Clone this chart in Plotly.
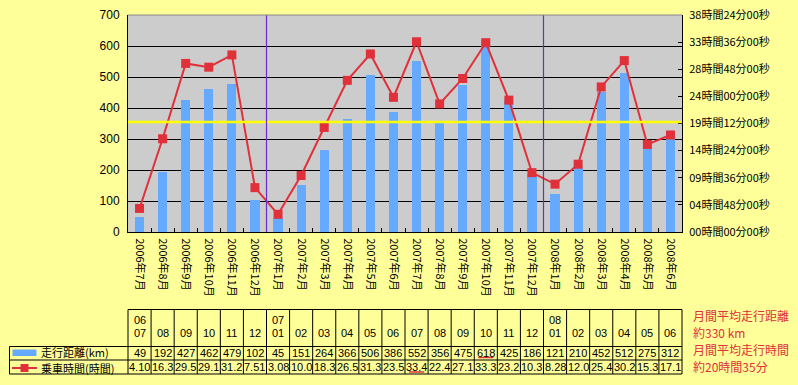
import plotly.graph_objects as go

# ---------------- data ----------------
months = ["2006年7月", "2006年8月", "2006年9月", "2006年10月", "2006年11月", "2006年12月",
          "2007年1月", "2007年2月", "2007年3月", "2007年4月", "2007年5月", "2007年6月",
          "2007年7月", "2007年8月", "2007年9月", "2007年10月", "2007年11月", "2007年12月",
          "2008年1月", "2008年2月", "2008年3月", "2008年4月", "2008年5月", "2008年6月"]
header_year = ["06", "", "", "", "", "", "07", "", "", "", "", "", "", "", "", "", "", "",
               "08", "", "", "", "", ""]
header_month = ["07", "08", "09", "10", "11", "12", "01", "02", "03", "04", "05", "06",
                "07", "08", "09", "10", "11", "12", "01", "02", "03", "04", "05", "06"]
distance_km = [49, 192, 427, 462, 479, 102, 45, 151, 264, 366, 506, 386,
               552, 356, 475, 618, 425, 186, 121, 210, 452, 512, 275, 312]
ride_time = ["4.10", "16.3", "29.5", "29.1", "31.2", "7.51", "3.08", "10.0", "18.3", "26.5", "31.3", "23.5",
             "33.4", "22.4", "27.1", "33.3", "23.2", "10.3", "8.28", "12.0", "25.4", "30.2", "15.3", "17.1"]
reference_line_km = 355
right_tick_minutes = [0, 288, 576, 864, 1152, 1440, 1728, 2016, 2304]
notes = ["月間平均走行距離", "約330 km", "月間平均走行時間", "約20時間35分"]

# hours.minutes notation -> decimal hours
def to_hours(s):
    h, m = s.split(".")
    m = (m + "0")[:2]
    return int(h) + int(m) / 60.0

ride_hours = [to_hours(s) for s in ride_time]
idx = list(range(len(months)))
right_tick_vals = [m / 60.0 for m in right_tick_minutes]
right_tick_text = [f"{m // 60:02d}時間{m % 60:02d}分00秒" for m in right_tick_minutes]

FONT = "Noto Sans CJK JP"
NUMFONT = "Liberation Sans Narrow, Liberation Sans, Arial"
RED = "#e0303a"
BLUE = "#66aaff"
BG = "#ffff99"

fig = go.Figure()
fig.add_trace(go.Bar(x=idx, y=distance_km, width=0.4, marker=dict(color=BLUE, line=dict(width=0)),
                     name="走行距離(km)", yaxis="y"))
fig.add_trace(go.Scatter(x=idx, y=ride_hours, mode="lines+markers", yaxis="y2",
                         line=dict(color=RED, width=2),
                         marker=dict(symbol="square", size=9, color=RED),
                         name="乗車時間(時間)"))

# pixel helpers for layout placement
L, R, T, B = 128, 682, 15, 232
def py(p):
    return (B - p) / (B - T)
def px(p):
    return (p - L) / (R - L)

shapes = []
# yellow reference line
shapes.append(dict(type="line", xref="paper", x0=0, x1=1, yref="y", y0=reference_line_km, y1=reference_line_km,
                   line=dict(color="#ffff00", width=2.5), layer="above"))
# year separators
for i in range(1, len(idx)):
    if header_year[i]:
        shapes.append(dict(type="line", xref="x", x0=i - 0.5, x1=i - 0.5, yref="paper", y0=0, y1=1,
                           line=dict(color="#6a2ccf", width=1.2), layer="above"))
# top border
shapes.append(dict(type="line", xref="paper", x0=0, x1=1, yref="paper", y0=1, y1=1,
                   line=dict(color="#888888", width=1)))

# table grid
y_head_top, y_head_bot, y_row_mid, y_row_bot = py(309.5), py(346.5), py(360), py(374)
x_left = px(9.5)
line_k = dict(color="black", width=1)
shapes.append(dict(type="line", xref="paper", x0=0, x1=1, yref="paper", y0=y_head_top, y1=y_head_top, line=line_k))
for yy in (y_head_bot, y_row_mid, y_row_bot):
    shapes.append(dict(type="line", xref="paper", x0=x_left, x1=1, yref="paper", y0=yy, y1=yy, line=line_k))
shapes.append(dict(type="line", xref="paper", x0=x_left, x1=x_left, yref="paper", y0=y_head_bot, y1=y_row_bot, line=line_k))
shapes.append(dict(type="line", xref="paper", x0=0, x1=0, yref="paper", y0=y_head_top, y1=y_row_bot, line=line_k))
shapes.append(dict(type="line", xref="paper", x0=1, x1=1, yref="paper", y0=y_head_top, y1=y_row_bot, line=line_k))
for i in range(1, len(idx)):
    shapes.append(dict(type="line", xref="x", x0=i - 0.5, x1=i - 0.5, yref="paper", y0=y_head_top, y1=y_row_bot,
                       line=line_k))

# legend keys in table
shapes.append(dict(type="rect", xref="paper", x0=px(12.5), x1=px(36.5), yref="paper", y0=py(349.5), y1=py(356),
                   fillcolor=BLUE, line=dict(width=0)))
shapes.append(dict(type="line", xref="paper", x0=px(12), x1=px(37), yref="paper", y0=py(368), y1=py(368),
                   line=dict(color=RED, width=2)))
shapes.append(dict(type="rect", xref="paper", x0=px(20.5), x1=px(28.5), yref="paper", y0=py(364), y1=py(372),
                   fillcolor=RED, line=dict(width=0)))

# red underline under maxima
i_dmax = distance_km.index(max(distance_km))
i_tmax = ride_hours.index(max(ride_hours))
shapes.append(dict(type="line", xref="x", x0=i_dmax - 0.33, x1=i_dmax + 0.33, yref="paper", y0=py(357.5), y1=py(357.5),
                   line=dict(color=RED, width=1.5)))
shapes.append(dict(type="line", xref="x", x0=i_tmax - 0.33, x1=i_tmax + 0.33, yref="paper", y0=py(372), y1=py(372),
                   line=dict(color=RED, width=1.5)))

annotations = []
tf = dict(family=NUMFONT, size=11, color="black")
for i in idx:
    if header_year[i]:
        annotations.append(dict(x=i, xref="x", y=py(320), yref="paper", text=header_year[i], showarrow=False,
                                font=tf, xanchor="center", yanchor="middle"))
    annotations.append(dict(x=i, xref="x", y=py(333), yref="paper", text=header_month[i], showarrow=False,
                            font=tf, xanchor="center", yanchor="middle"))
    annotations.append(dict(x=i, xref="x", y=py(352.5), yref="paper", text=str(distance_km[i]), showarrow=False,
                            font=tf, xanchor="center", yanchor="middle"))
    annotations.append(dict(x=i, xref="x", y=py(366.5), yref="paper", text=ride_time[i], showarrow=False,
                            font=tf, xanchor="center", yanchor="middle"))
annotations.append(dict(x=px(40), xref="paper", y=py(352.2), yref="paper", text="走行距離(km)", showarrow=False,
                        font=dict(family=FONT, size=11, color="black"), xanchor="left", yanchor="middle",
                        borderpad=0))
annotations.append(dict(x=px(40), xref="paper", y=py(368.2), yref="paper", text="乗車時間(時間)", showarrow=False,
                        font=dict(family=FONT, size=11, color="black"), xanchor="left", yanchor="middle",
                        borderpad=0))
for txt, yp in zip(notes, [315, 332, 349, 366]):
    annotations.append(dict(x=px(691), xref="paper", y=py(yp), yref="paper", text=txt, showarrow=False,
                            font=dict(family=FONT, size=12, color=RED), xanchor="left", yanchor="middle"))

fig.update_layout(
    width=798, height=385,
    margin=dict(l=L, r=798 - R, t=T, b=385 - B, pad=0, autoexpand=False),
    paper_bgcolor=BG, plot_bgcolor="#cccccc",
    showlegend=False, bargap=0,
    font=dict(family=FONT, size=11, color="black"),
    xaxis=dict(range=[-0.5, len(idx) - 0.5], tickvals=idx, ticktext=months, tickangle=90, automargin=False,
               ticks="", showgrid=False, zeroline=False, showline=True, linecolor="black", linewidth=1,
               tickfont=dict(family=FONT, size=11, color="black"), ticklabelstandoff=3,
               minor=dict(tickvals=[i + 0.5 for i in idx[:-1]], ticks="inside", ticklen=4,
                          tickcolor="black", showgrid=False)),
    yaxis=dict(range=[0, 700], dtick=100, showgrid=True, gridcolor="black", gridwidth=1, zeroline=False,
               automargin=False, showline=True, linecolor="black", linewidth=1, ticks="",
               ticklabelstandoff=5, tickfont=dict(family=NUMFONT, size=12)),
    yaxis2=dict(range=[0, right_tick_vals[-1]], overlaying="y", side="right", tickvals=right_tick_vals,
                automargin=False, ticklabelstandoff=4,
                ticktext=right_tick_text, showgrid=False, zeroline=False, showline=True, linecolor="black",
                linewidth=1, ticks="inside", ticklen=4, tickcolor="black", tickfont=dict(family=FONT, size=11)),
    shapes=shapes, annotations=annotations,
)

fig.write_html("out.html", config={"displayModeBar": False},
               post_script="document.body.style.margin='0';document.body.style.background='%s';" % BG)
